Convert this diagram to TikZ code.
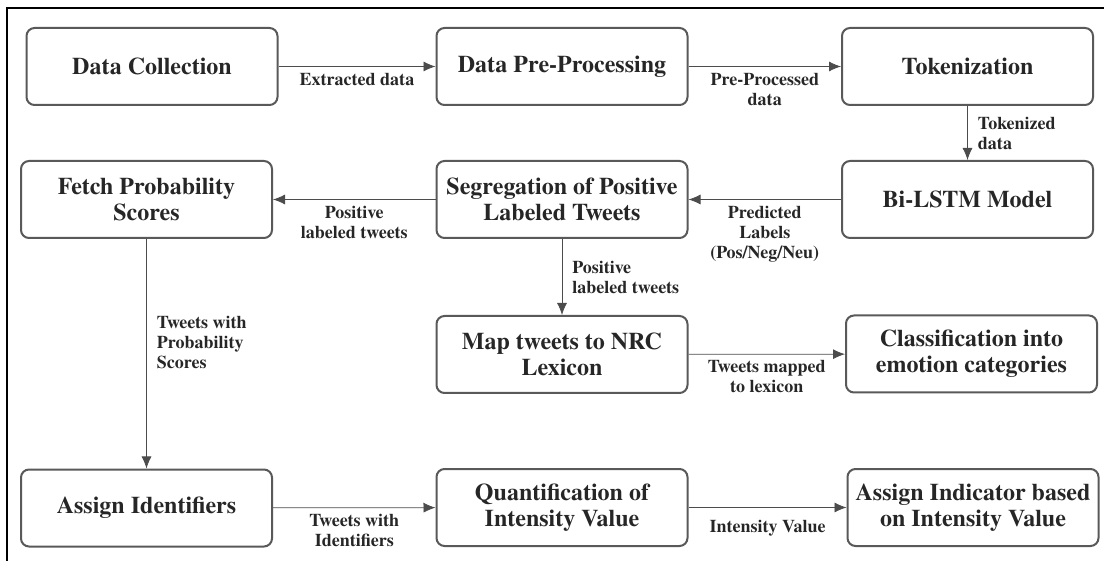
\documentclass[tikz,border=0pt]{standalone}
\usepackage{fontspec}
\setmainfont{texgyretermes}[Extension=.otf,UprightFont=*-regular,BoldFont=*-bold,ItalicFont=*-italic,BoldItalicFont=*-bolditalic]
\usepackage{tikz}
\usetikzlibrary{
	arrows.meta,
	positioning,
}
\tikzset{stage/.style={draw,rounded corners=4pt,minimum width=125.5pt,minimum height=38.5pt,inner sep=1pt,align=center,line width=1pt,black!65,text=black!85,font=\fontsize{12}{13}\selectfont\bfseries,}}
\tikzset{flow text/.style={draw=none,inner sep=2pt,text=black!85,font=\fontsize{9}{10}\selectfont\bfseries,}}
\tikzset{flow below/.style={flow text,midway,below=1pt,align=center,}}
\tikzset{flow right/.style={flow text,midway,right=3pt,align=left,}}
\tikzset{
	>={Latex[length=6pt,width=5pt]}, 
	line width=1pt,
}

\begin{document}
\begin{tikzpicture}[x=0.5pt,y=-0.5pt,->,black!70]

\useasboundingbox (0,0) rectangle (1104,561);
\draw[-,black,line width=1pt] (7,561) -- (7,8) -- (1104,8);

\node[stage] (collect) at (152,66.5) {Data Collection};
\node[stage] (preproc) at (562,66.5) {Data Pre-Processing};
\node[stage] (token) at (967.5,66.5) {Tokenization};

\node[stage] (fetch) at (146.5,199.5) {Fetch Probability\\Scores};
\node[stage] (segregate) at (562,199.5) {Segregation of Positive\\Labeled Tweets};
\node[stage] (bilstm) at (967.5,199.5) {Bi-LSTM Model};

\node[stage] (nrc) at (562,354.5) {Map tweets to NRC\\Lexicon};
\node[stage] (classify) at (971.5,354) {Classification into\\emotion categories};

\node[stage] (identify) at (146.5,508) {Assign Identifiers};
\node[stage] (quantify) at (562,507.5) {Quantification of\\Intensity Value};
\node[stage] (indicator) at (973,507.5) {Assign Indicator based\\on Intensity Value};

\draw (collect) -- (preproc) node[flow below]{Extracted data};
\draw (preproc) -- (token) node[flow below]{Pre-Processed\\data};
\draw (token) -- (bilstm) node[flow right]{Tokenized\\data};
\draw (bilstm) -- (segregate) node[flow below]{Predicted\\Labels\\(Pos/Neg/Neu)};
\draw (segregate) -- (fetch) node[flow below]{Positive\\labeled tweets};
\draw (segregate) -- (nrc) node[flow right]{Positive\\labeled tweets};
\draw (nrc) -- (classify) node[flow below]{Tweets mapped\\to lexicon};
\draw (fetch) -- (identify) node[flow right,pos=0.45]{Tweets with\\Probability\\Scores};
\draw (identify) -- (quantify) node[flow below]{Tweets with\\Identifiers};
\draw (quantify) -- (indicator) node[flow below,below=4pt]{Intensity Value};

\end{tikzpicture}
\end{document}
